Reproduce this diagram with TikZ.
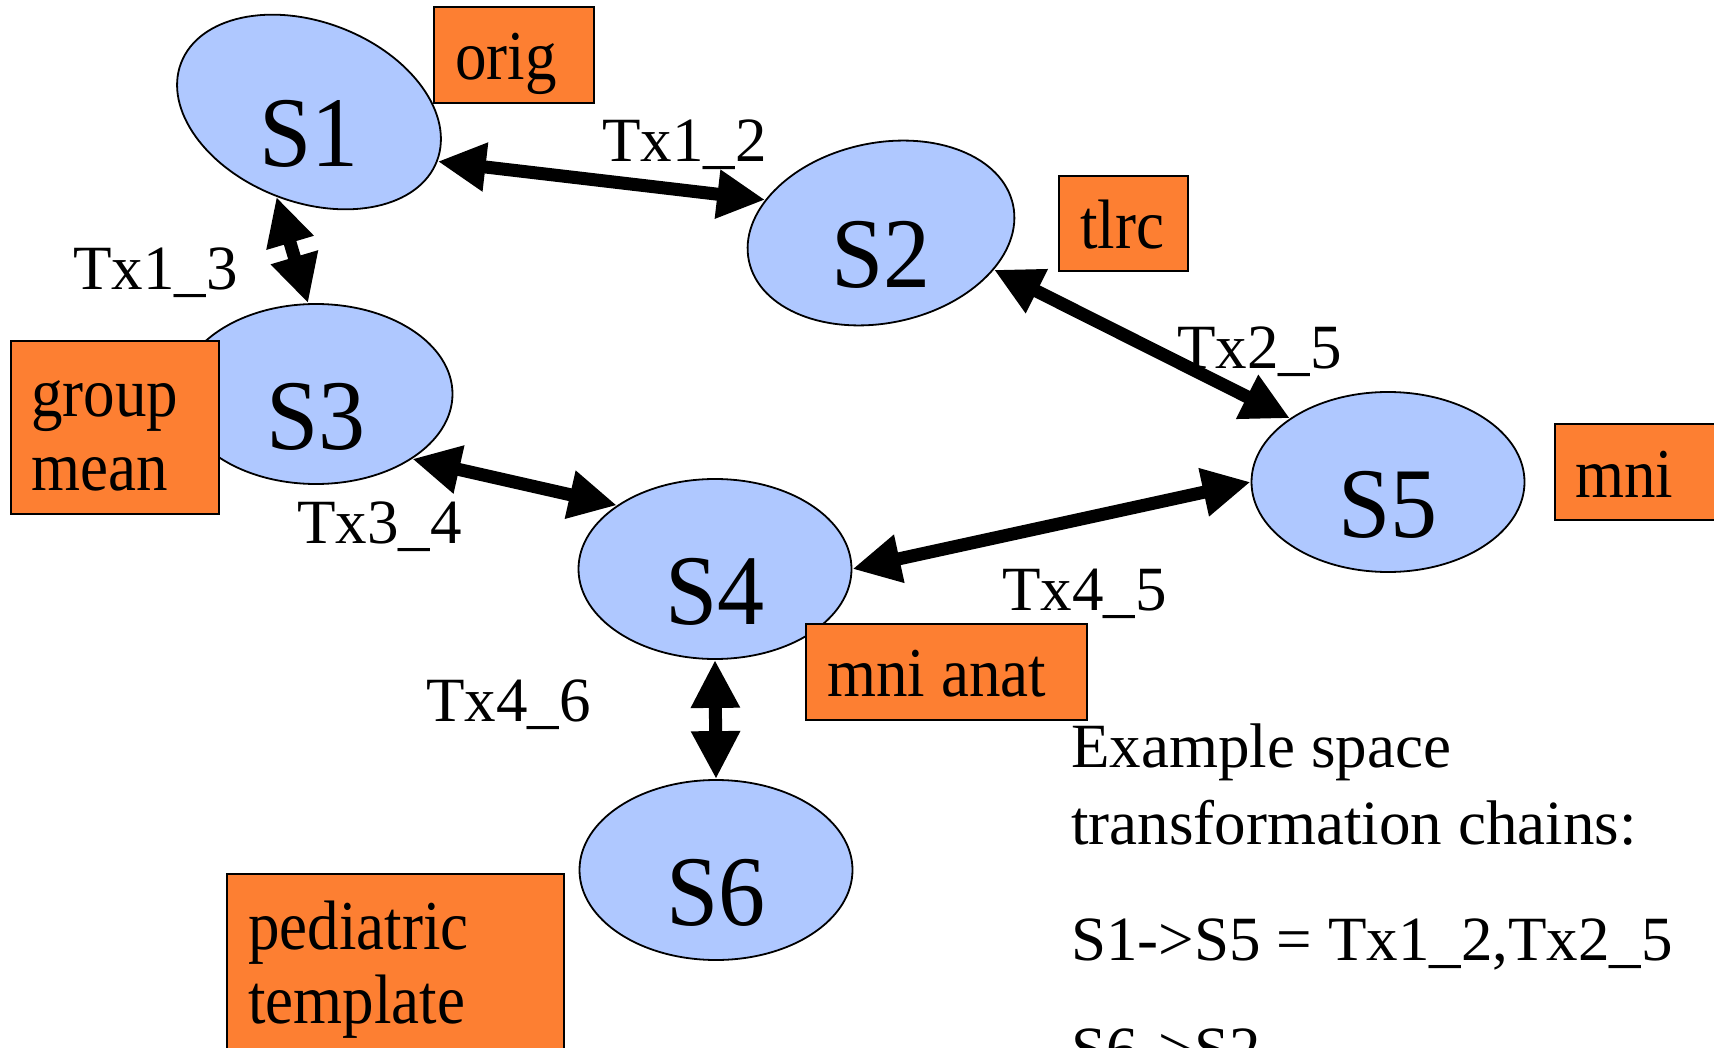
\documentclass[tikz,border=0pt]{standalone}
\usepackage{fontspec}
\setmainfont{Liberation Serif}
\newfontfamily\spaceserif{Liberation Serif}[FakeStretch=0.94]
\newfontfamily\narrowserif{Liberation Serif}[FakeStretch=0.9]
\usetikzlibrary{arrows.meta,shapes.geometric}
\definecolor{spaceblue}{RGB}{175,200,255}
\definecolor{tagorange}{RGB}{253,127,50}
\begin{document}
\begin{tikzpicture}[x=0.5pt,y=-0.5pt,
  spacenode/.style={ellipse,draw,line width=0.9pt,fill=spaceblue,inner sep=0pt,
    minimum width=136.5pt,minimum height=90pt},
  spacelbl/.style={inner sep=0pt,text height=55pt,text depth=0pt,
    font=\spaceserif\fontsize{50}{50}\selectfont},
  tagbox/.style={draw,line width=1pt,fill=tagorange,inner sep=0pt},
  taglbl/.style={anchor=base west,inner sep=0pt,align=left,
    font=\narrowserif\fontsize{35}{37}\selectfont},
  txlbl/.style={anchor=base west,inner sep=0pt,font=\fontsize{31.5}{36}\selectfont},
  notelbl/.style={anchor=base west,inner sep=0pt,align=left,
    font=\fontsize{31.5}{38.5}\selectfont},
  txarrow/.style={line width=6.5pt,
    {Triangle[length=24pt,width=23pt]}-{Triangle[length=24pt,width=23pt]}}]
\useasboundingbox (0,0) rectangle (1714,1048);
\clip (0,0) rectangle (1714,1048);
% spaces
\node[spacenode,rotate=-21,minimum width=137pt] (s1) at (309,112) {};
\node[spacelbl] (s1l) at (s1) {S1};
\node[spacenode,rotate=12,minimum width=135pt] (s2) at (881,233) {};
\node[spacelbl] (s2l) at (s2) {S2};
\node[spacenode,spacelbl] (s3) at (316,394) {S3};
\node[spacenode,spacelbl] (s4) at (715,569) {S4};
\node[spacenode,spacelbl] (s5) at (1388,482) {S5};
\node[spacenode,spacelbl] (s6) at (716,870) {S6};
% tags
\node[tagbox,minimum width=80pt,minimum height=48pt] (orig) at (514,55) {};
\node[tagbox,minimum width=64.5pt,minimum height=47.5pt] (tlrc) at (1123.5,223.5) {};
\node[tagbox,minimum width=104pt,minimum height=86.5pt] (gmean) at (115,427.5) {};
\node[tagbox,minimum width=102.5pt,minimum height=48pt] (mni) at (1657.5,472) {};
\node[tagbox,minimum width=140.5pt,minimum height=48pt] (mnianat) at (946.5,672) {};
\node[tagbox,minimum width=168.5pt,minimum height=103pt] (ped) at (395.5,977) {};
\node[taglbl] (origl) at (455,80) {orig};
\node[taglbl] (tlrcl) at (1080,249) {tlrc};
\node[taglbl] (gmeanl) at (31,490) {group\\mean};
\node[taglbl] (mnil) at (1575,497) {mni};
\node[taglbl] (mnianatl) at (827,696) {mni anat};
\node[taglbl] (pedl) at (248,1023) {pediatric\\template};
% transforms
\node[txlbl] (tx12) at (602,162) {Tx1\_2};
\node[txlbl] (tx13) at (73,290) {Tx1\_3};
\node[txlbl] (tx25) at (1177,369) {Tx2\_5};
\node[txlbl] (tx34) at (297,543) {Tx3\_4};
\node[txlbl] (tx45) at (1002,610) {Tx4\_5};
\node[txlbl] (tx46) at (426,721) {Tx4\_6};
\draw[txarrow] (s1.east) -- (s2.152);
\draw[txarrow] (s1.south) -- (s3.95);
\draw[txarrow] (s2.-30) -- (s5.147);
\draw[txarrow] (s3.-34) -- (s4.147);
\draw[txarrow] (s4.east) -- (s5.west);
\draw[txarrow] (s4.south) -- (s6.north);
\node[notelbl] (note) at (1071,1070) {Example space\\transformation chains:\\[19.5pt]S1->S5 = Tx1\_2,Tx2\_5\\[16.5pt]S6->S2};
\end{tikzpicture}
\end{document}
